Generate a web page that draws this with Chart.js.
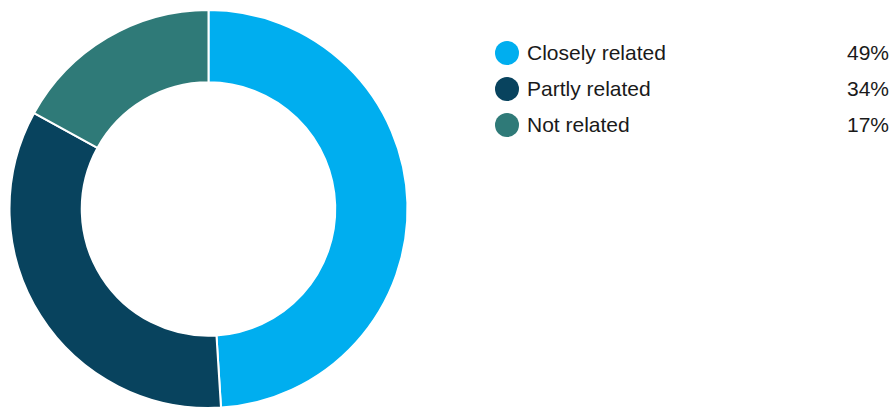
<!DOCTYPE html>
<html>
<head>
<meta charset="utf-8">
<script src="https://cdn.jsdelivr.net/npm/chart.js@4"></script>
<style>
  html, body { margin: 0; padding: 0; background: #fff; }
  #wrap { position: relative; width: 893px; height: 410px; }
  #chartBox { position: absolute; left: 0; top: 0; width: 417px; height: 410px; }
  #legend { position: absolute; left: 495px; top: 35px; width: 394px;
    font-family: "Liberation Sans", Arial, Helvetica, sans-serif; font-size: 21px; color: #1a1a1a; }
  .row { display: flex; align-items: center; height: 36px; }
  .dot { width: 24px; height: 24px; border-radius: 50%; margin-right: 8px; flex: none; }
  .name { flex: 1; }
  .pct { text-align: right; }
</style>
</head>
<body>
<div id="wrap">
  <div id="chartBox"><canvas id="relChart"></canvas></div>
  <div id="legend"></div>
</div>
<script>
const categories = ["Closely related", "Partly related", "Not related"];
const shares = [49, 34, 17];
const colours = ["#00aeef", "#08435e", "#2f7a78"];

const ctx = document.getElementById("relChart").getContext("2d");

new Chart(ctx, {
  type: "doughnut",
  data: {
    labels: categories,
    datasets: [
      {
        data: shares,
        backgroundColor: colours,
        borderColor: "#ffffff",
        borderWidth: 2
      }
    ]
  },
  options: {
    responsive: true,
    maintainAspectRatio: false,
    animation: false,
    cutout: "63.7%",
    layout: { padding: { top: 9, bottom: 1 } },
    plugins: {
      legend: { display: false },
      tooltip: { enabled: false }
    }
  }
});

// legend rows with the share on the right
const legend = document.getElementById("legend");
categories.forEach((name, i) => {
  const row = document.createElement("div");
  row.className = "row";
  row.innerHTML =
    '<span class="dot" style="background:' + colours[i] + '"></span>' +
    '<span class="name">' + name + '</span>' +
    '<span class="pct">' + shares[i] + '%</span>';
  legend.appendChild(row);
});
</script>
</body>
</html>
